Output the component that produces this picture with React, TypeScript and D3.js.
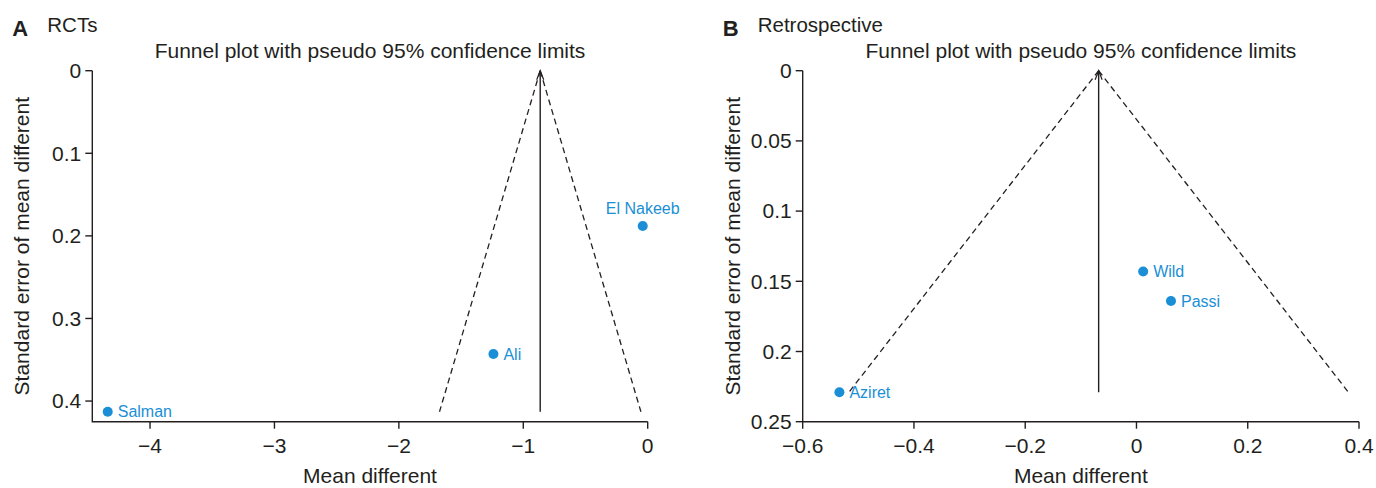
import React from "react";
import * as d3 from "d3";

const rctStudies = ["El Nakeeb", "Ali", "Salman"];
const rctMeanDiff = [-0.04, -1.24, -4.34];
const rctSE = [0.188, 0.343, 0.413];
const rctPooled = -0.864;
const rctXTicks = [-4, -3, -2, -1, 0];
const rctYTicks = [0, 0.1, 0.2, 0.3, 0.4];

const retroStudies = ["Wild", "Passi", "Aziret"];
const retroMeanDiff = [0.012, 0.062, -0.534];
const retroSE = [0.143, 0.164, 0.229];
const retroPooled = -0.068;
const retroXTicks = [-0.6, -0.4, -0.2, 0, 0.2, 0.4];
const retroYTicks = [0, 0.05, 0.1, 0.15, 0.2, 0.25];

const FONT = "'Liberation Sans', Arial, sans-serif";
const TEXT = "#231f20";
const BLUE = "#1a8fd6";

type PanelProps = {
  letter: string;
  subtitle: string;
  names: string[];
  md: number[];
  se: number[];
  pooled: number;
  xTicks: number[];
  yTicks: number[];
  xDomain: [number, number];
  yDomain: [number, number];
  left: number;
  right: number;
  labelAbove: string[];
};

const fmt = (v: number) => {
  const s = String(Math.round(v * 1000) / 1000);
  return s.replace("-", "\u2212");
};

function Panel(p: PanelProps) {
  const top = 70.7;
  const bottom = 421.7;
  const x = d3.scaleLinear().domain(p.xDomain).range([p.left, p.right]);
  const y = d3.scaleLinear().domain(p.yDomain).range([top, bottom]);
  const seMax = d3.max(p.se) as number;
  const hw = 1.96 * seMax;
  const line = d3
    .line<[number, number]>()
    .x((d) => x(d[0]))
    .y((d) => y(d[1]));
  const leftLimit: [number, number][] = [
    [p.pooled, 0],
    [p.pooled - hw, seMax],
  ];
  const rightLimit: [number, number][] = [
    [p.pooled, 0],
    [p.pooled + hw, seMax],
  ];
  const cx = x(p.pooled);
  const mid = (p.left + p.right) / 2;
  return (
    <g fontFamily={FONT} fill={TEXT}>
      <text x={p.left - 80} y={36} fontSize={22} fontWeight="bold">
        {p.letter}
      </text>
      <text x={p.left - 45} y={32} fontSize={20.5}>
        {p.subtitle}
      </text>
      <text x={mid} y={58} fontSize={21} textAnchor="middle">
        Funnel plot with pseudo 95% confidence limits
      </text>
      {/* axes */}
      <path
        d={`M${p.left},${top}V${bottom}H${p.right}`}
        fill="none"
        stroke={TEXT}
        strokeWidth={1.4}
      />
      {p.yTicks.map((t) => (
        <g key={"y" + t}>
          <line x1={p.left - 7} x2={p.left} y1={y(t)} y2={y(t)} stroke={TEXT} strokeWidth={1.4} />
          <text x={p.left - 11} y={y(t)} dy="0.35em" fontSize={21} textAnchor="end">
            {fmt(t)}
          </text>
        </g>
      ))}
      {p.xTicks.map((t) => (
        <g key={"x" + t}>
          <line x1={x(t)} x2={x(t)} y1={bottom} y2={bottom + 7} stroke={TEXT} strokeWidth={1.4} />
          <text x={x(t)} y={453} fontSize={21} textAnchor="middle">
            {fmt(t)}
          </text>
        </g>
      ))}
      <text x={mid} y={483} fontSize={21} textAnchor="middle">
        Mean different
      </text>
      <text
        transform={`translate(${p.left - 63},${(top + bottom) / 2}) rotate(-90)`}
        fontSize={21}
        textAnchor="middle"
      >
        Standard error of mean different
      </text>
      {/* funnel */}
      <path d={line(leftLimit) || ""} fill="none" stroke={TEXT} strokeWidth={1.3} strokeDasharray="6,4" />
      <path d={line(rightLimit) || ""} fill="none" stroke={TEXT} strokeWidth={1.3} strokeDasharray="6,4" />
      <line x1={cx} x2={cx} y1={y(0)} y2={y(seMax)} stroke={TEXT} strokeWidth={1.4} />
      <path
        d={`M${cx - 3.5},${y(0) + 9}L${cx},${y(0)}L${cx + 3.5},${y(0) + 9}`}
        fill="none"
        stroke={TEXT}
        strokeWidth={1.2}
      />
      {/* points */}
      {p.names.map((n, i) => {
        const px = x(p.md[i]);
        const py = y(p.se[i]);
        const above = p.labelAbove.includes(n);
        return (
          <g key={n}>
            <circle cx={px} cy={py} r={5} fill={BLUE} />
            <text
              x={above ? px : px + 10}
              y={above ? py - 12 : py}
              dy={above ? 0 : "0.35em"}
              fontSize={16}
              fill={BLUE}
              textAnchor={above ? "middle" : "start"}
            >
              {n}
            </text>
          </g>
        );
      })}
    </g>
  );
}

export default function App() {
  return (
    <svg
      width={1376}
      height={488}
      style={{ position: "absolute", left: 0, top: 0, background: "#fff" }}
    >
      <rect width={1376} height={488} fill="#fff" />
      <Panel
        letter="A"
        subtitle="RCTs"
        names={rctStudies}
        md={rctMeanDiff}
        se={rctSE}
        pooled={rctPooled}
        xTicks={rctXTicks}
        yTicks={rctYTicks}
        xDomain={[-4.464, 0]}
        yDomain={[0, 0.425]}
        left={92.3}
        right={647.7}
        labelAbove={["El Nakeeb"]}
      />
      <Panel
        letter="B"
        subtitle="Retrospective"
        names={retroStudies}
        md={retroMeanDiff}
        se={retroSE}
        pooled={retroPooled}
        xTicks={retroXTicks}
        yTicks={retroYTicks}
        xDomain={[-0.6, 0.4]}
        yDomain={[0, 0.25]}
        left={802.7}
        right={1359}
        labelAbove={[]}
      />
    </svg>
  );
}
